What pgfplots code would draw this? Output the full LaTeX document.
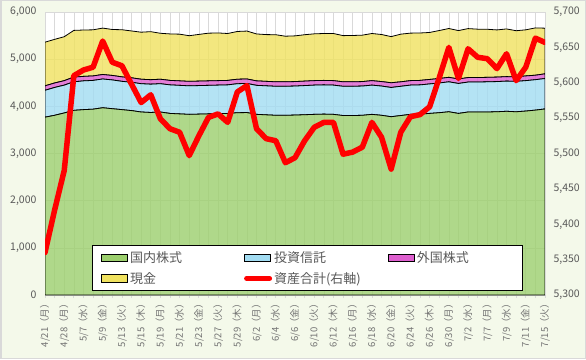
\documentclass[border=0pt]{standalone}
\usepackage{pgfplots}
\pgfplotsset{compat=1.18}
\usepackage{pgfplotstable}
\usepackage{fontspec}
\setmainfont{Noto Sans CJK JP}
\definecolor{bgc}{RGB}{244,249,234}
\definecolor{frame}{RGB}{217,217,217}
\definecolor{gridc}{RGB}{217,217,217}
\definecolor{txt}{RGB}{89,89,89}
\definecolor{xtxt}{RGB}{115,115,115}
\definecolor{cgreen}{RGB}{156,207,109}
\definecolor{cblue}{RGB}{162,220,242}
\definecolor{cmag}{RGB}{222,95,207}
\definecolor{cyel}{RGB}{240,226,95}
\definecolor{cred}{RGB}{255,0,0}

\pgfplotstableread{
idx G B M C R
0 3770 570 95 925 5360
1 3810 590 95 925 5420
2 3860 590 95 931 5476
3 3915 605 100 990 5610
4 3930 610 95 983 5618
5 3940 610 95 977 5622
6 3970 610 95 984 5659
7 3950 610 95 974 5629
8 3930 600 95 999 5624
9 3910 600 95 993 5598
10 3880 600 95 997 5572
11 3870 600 95 1018 5583
12 3880 600 95 974 5549
13 3850 605 95 985 5535
14 3840 605 95 990 5530
15 3830 605 95 967 5497
16 3835 605 95 990 5525
17 3840 605 95 1011 5551
18 3845 605 95 1011 5556
19 3850 605 95 994 5544
20 3865 615 95 1012 5587
21 3868 617 95 1016 5596
22 3830 615 95 995 5535
23 3820 615 95 991 5521
24 3810 615 95 998 5518
25 3810 615 95 967 5487
26 3815 615 95 969 5494
27 3822 618 95 983 5518
28 3830 620 95 992 5537
29 3835 620 95 994 5544
30 3830 620 95 999 5544
31 3805 620 95 979 5499
32 3805 620 95 982 5502
33 3810 620 95 984 5509
34 3830 620 95 999 5544
35 3810 620 95 998 5523
36 3780 620 100 978 5478
37 3805 620 95 1010 5530
38 3830 620 95 1007 5552
39 3835 620 95 1005 5555
40 3850 625 95 996 5566
41 3865 630 95 1017 5607
42 3885 635 95 1035 5650
43 3850 635 95 1026 5606
44 3880 635 95 1038 5648
45 3880 635 95 1026 5636
46 3880 640 95 1019 5634
47 3885 640 95 1000 5620
48 3895 640 95 1011 5641
49 3885 645 95 978 5603
50 3900 645 100 977 5622
51 3920 645 95 1003 5663
52 3945 645 100 967 5657
}\data

\pgfplotsset{
  legimg/.style={legend image code/.code={\draw[##1,draw=black,line width=0.7pt,fill opacity=1] (0pt,-3.8pt) rectangle (26pt,3.8pt);}},
  redleg/.style={legend image code/.code={\draw[##1] (2pt,0pt) -- (25pt,0pt);}},
}

\begin{document}
\begin{tikzpicture}[x=1pt,y=1pt]
\fill[bgc] (0,0) rectangle (586,359);
\draw[frame,line width=1.5pt] (0.75,0.75) rectangle (585.25,358.25);
\path[use as bounding box] (0,0) rectangle (586,359);
\fill[white] (45,64) rectangle (545,347);
\begin{axis}[
  at={(45pt,64pt)}, anchor=south west,
  scale only axis, width=500pt, height=283pt,
  xmin=0, xmax=52, ymin=0, ymax=6000,
  axis x line*=bottom, axis y line*=left,
  axis line style={gridc},
  ytick={0,1000,...,6000},
  ytick style={draw=none},
  xtick={0,...,52},
  xticklabels={4/21（月）,,4/28（月）,,5/7（水）,,5/9（金）,,5/13（火）,,5/15（木）,,5/19（月）,,5/21（水）,,5/23（金）,,5/27（火）,,5/29（木）,,6/2（月）,,6/4（水）,,6/6（金）,,6/10（火）,,6/12（木）,,6/16（月）,,6/18（水）,,6/20（金）,,6/24（火）,,6/26（木）,,6/30（月）,,7/2（水）,,7/7（月）,,7/9（水）,,7/11（金）,,7/15（火）},
  tick align=outside,
  major tick length=3pt,
  xtick style={gridc, line width=0.8pt},
  x tick label style={rotate=90, anchor=east, font=\fontsize{9.5}{10}\selectfont, text=xtxt, inner sep=1pt},
  y tick label style={font=\fontsize{10.5}{11}\selectfont, text=txt, xshift=-2pt},
  /pgf/number format/1000 sep={,},
  /pgf/number format/assume math mode=true,
  grid=major,
  major grid style={gridc, line width=0.6pt},
  stack plots=y,
  legend columns=3,
  legend cell align=left,
  legend style={at={(0.094,0.014)}, anchor=south west, draw=black, line width=0.8pt, fill=white,
    font=\fontsize{13}{14}\selectfont, text=txt, inner xsep=9pt, inner ysep=4pt, row sep=4pt,
    nodes={inner xsep=2pt}},
]
\addplot[fill=cgreen, fill opacity=0.8, draw=black, line width=0.8pt, draw opacity=1, legimg] table[x=idx,y=G]{\data} \closedcycle;
\addlegendentry{\makebox[112pt][l]{国内株式}}
\addplot[fill=cblue, fill opacity=0.8, draw=black, line width=0.8pt, draw opacity=1, legimg] table[x=idx,y=B]{\data} \closedcycle;
\addlegendentry{\makebox[112pt][l]{投資信託}}
\addplot[fill=cmag, fill opacity=0.8, draw=black, line width=0.8pt, draw opacity=1, legimg] table[x=idx,y=M]{\data} \closedcycle;
\addlegendentry{\makebox[95pt][l]{外国株式}}
\addplot[fill=cyel, fill opacity=0.8, draw=black, line width=0.8pt, draw opacity=1, legimg] table[x=idx,y=C]{\data} \closedcycle;
\addlegendentry{\makebox[112pt][l]{現金}}
\addlegendimage{cred, line width=5pt, line cap=round, redleg}
\addlegendentry{\makebox[112pt][l]{資産合計(右軸)}}
\end{axis}
\begin{axis}[
  at={(45pt,64pt)}, anchor=south west,
  scale only axis, width=500pt, height=283pt,
  xmin=0, xmax=52, ymin=5300, ymax=5700,
  axis x line=none,
  axis y line*=right,
  axis line style={gridc},
  ytick={5300,5350,...,5700},
  ytick style={draw=none},
  y tick label style={font=\fontsize{10.5}{11}\selectfont, text=txt, xshift=5pt},
  /pgf/number format/1000 sep={,},
  /pgf/number format/assume math mode=true,
]
\addplot[cred, line width=5.5pt, line join=round, line cap=round] table[x=idx,y=R]{\data};
\end{axis}
\end{tikzpicture}
\end{document}
